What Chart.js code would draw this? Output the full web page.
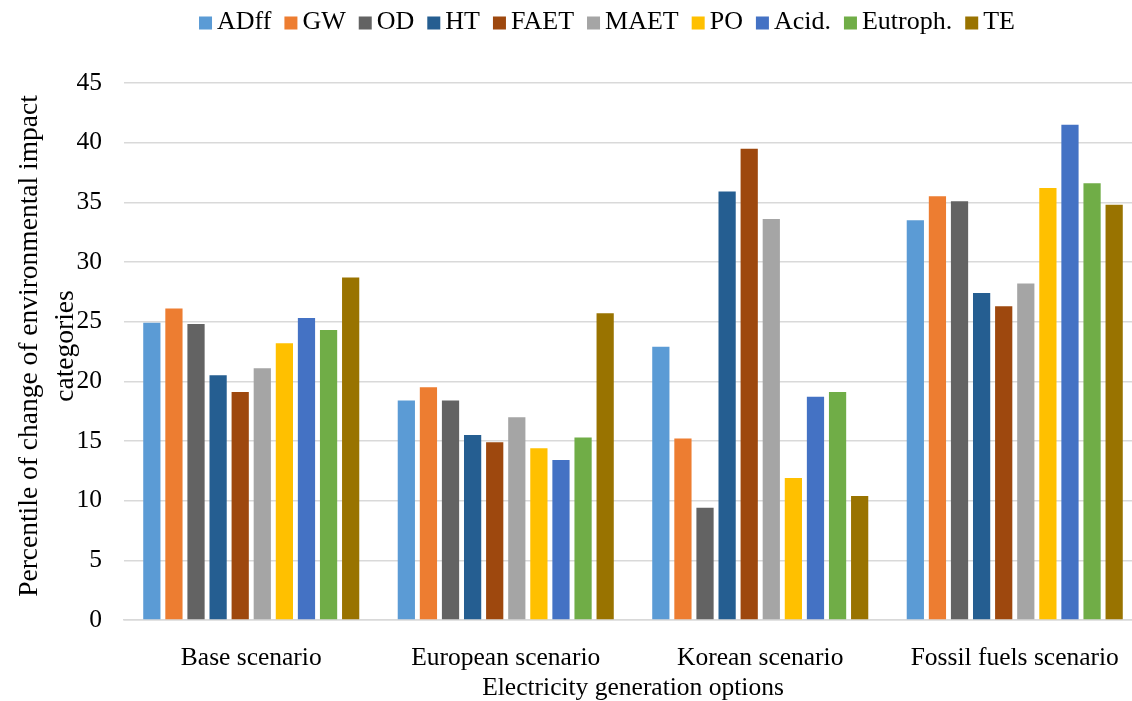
<!DOCTYPE html>
<html>
<head>
<meta charset="utf-8">
<script src="https://cdn.jsdelivr.net/npm/chart.js@4.4.1/dist/chart.umd.min.js"></script>
<style>
  html, body { margin: 0; padding: 0; overflow: hidden; background: #fff; }
  #wrap { width: 1150px; height: 701px; position: relative; }
</style>
</head>
<body>
<div id="wrap"><canvas id="chart"></canvas></div>
<script>
// Scenario categories on the x axis
const categories = ['Base scenario', 'European scenario', 'Korean scenario', 'Fossil fuels scenario'];

// Impact category series (percent change per scenario)
const seriesNames = ['ADff', 'GW', 'OD', 'HT', 'FAET', 'MAET', 'PO', 'Acid.', 'Eutroph.', 'TE'];
const ADff    = [24.9, 18.4, 22.9, 33.5];
const GW      = [26.1, 19.5, 15.2, 35.5];
const OD      = [24.8, 18.4,  9.4, 35.1];
const HT      = [20.5, 15.5, 35.9, 27.4];
const FAET    = [19.1, 14.9, 39.5, 26.3];
const MAET    = [21.1, 17.0, 33.6, 28.2];
const PO      = [23.2, 14.4, 11.9, 36.2];
const Acid    = [25.3, 13.4, 18.7, 41.5];
const Eutroph = [24.3, 15.3, 19.1, 36.6];
const TE      = [28.7, 25.7, 10.4, 34.8];
const seriesValues = [ADff, GW, OD, HT, FAET, MAET, PO, Acid, Eutroph, TE];

const seriesColors = ['#5B9BD5', '#ED7D31', '#636363', '#255E91', '#9E480E',
                      '#A5A5A5', '#FFC000', '#4472C4', '#70AD47', '#997300'];

// Value axis range
const yMin = 0;
const yMax = 45;
const yStep = 5;

const xTitle = 'Electricity generation options';
const yTitleLines = ['Percentile of change of environmental impact', 'categories'];

const FONT = '"Liberation Serif", "Times New Roman", serif';

// Legend row across the top
const topLegend = {
  id: 'topLegend',
  afterDraw(chart) {
    const ctx = chart.ctx;
    const box = 13, gapText = 5, gapItem = 13;
    ctx.save();
    ctx.font = '26px ' + FONT;
    const widths = seriesNames.map(n => ctx.measureText(n).width);
    let total = 0;
    widths.forEach((w, i) => { total += box + gapText + w + (i < widths.length - 1 ? gapItem : 0); });
    let x = 607 - total / 2;
    const cy = 23;
    ctx.textBaseline = 'middle';
    ctx.textAlign = 'left';
    seriesNames.forEach((n, i) => {
      ctx.fillStyle = seriesColors[i];
      ctx.fillRect(x, cy - box / 2, box, box);
      ctx.fillStyle = '#000';
      ctx.fillText(n, x + box + gapText, cy - 1);
      x += box + gapText + widths[i] + gapItem;
    });
    ctx.restore();
  }
};

// Two-line rotated title for the value axis
const yAxisTitle = {
  id: 'yAxisTitle',
  afterDraw(chart) {
    const ctx = chart.ctx;
    ctx.save();
    ctx.font = '27.5px ' + FONT;
    ctx.fillStyle = '#000';
    ctx.textAlign = 'center';
    ctx.textBaseline = 'alphabetic';
    const baselines = [37, 73];
    yTitleLines.forEach((line, i) => {
      ctx.save();
      ctx.translate(baselines[i], 346);
      ctx.rotate(-Math.PI / 2);
      ctx.fillText(line, 0, 0);
      ctx.restore();
    });
    ctx.restore();
  }
};

new Chart(document.getElementById('chart'), {
  type: 'bar',
  data: {
    labels: categories,
    datasets: seriesNames.map((name, i) => ({
      label: name,
      data: seriesValues[i],
      backgroundColor: seriesColors[i],
      borderWidth: 0,
      categoryPercentage: 0.868,
      barPercentage: 0.78
    }))
  },
  options: {
    responsive: true,
    maintainAspectRatio: false,
    animation: false,
    layout: { padding: { top: 83, right: 8, bottom: 0, left: 0 } },
    plugins: {
      legend: { display: false },
      tooltip: { enabled: false }
    },
    scales: {
      x: {
        grid: { display: false },
        border: { display: true, color: '#d9d9d9', width: 1.5 },
        ticks: { color: '#000', font: { family: FONT, size: 25.5 }, padding: 15, maxRotation: 0 },
        title: {
          display: true,
          text: xTitle,
          color: '#000',
          font: { family: FONT, size: 25.5, lineHeight: 1.0 },
          padding: { top: 0, bottom: 0 }
        },
        afterFit(scale) { scale.height = 81; }
      },
      y: {
        min: yMin,
        max: yMax,
        grid: { color: '#d9d9d9', lineWidth: 1.5, drawTicks: false },
        border: { display: false },
        ticks: { stepSize: yStep, color: '#000', font: { family: FONT, size: 25.5 }, padding: 22 },
        afterFit(scale) { scale.width = 124; }
      }
    }
  },
  plugins: [topLegend, yAxisTitle]
});
</script>
</body>
</html>
